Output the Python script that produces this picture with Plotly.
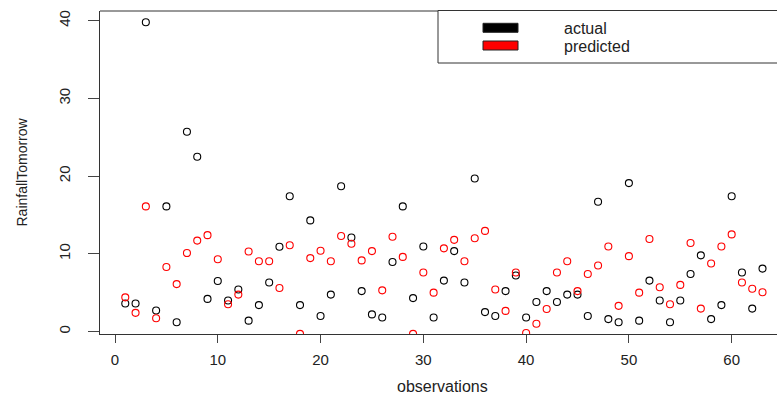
import plotly.graph_objects as go

observations = list(range(1, 64))

actual = [3.6, 3.6, 39.8, 2.7, 16.1, 1.2, 25.7, 22.5, 4.2, 6.5,
          4.0, 5.4, 1.4, 3.4, 6.3, 10.9, 17.4, 3.4, 14.3, 2.0,
          4.75, 18.7, 12.1, 5.2, 2.2, 1.8, 8.95, 16.1, 4.3, 10.95,
          1.8, 6.55, 10.35, 6.3, 19.7, 2.5, 2.0, 5.2, 7.2, 1.8,
          3.8, 5.2, 3.8, 4.75, 4.75, 2.0, 16.7, 1.6, 1.2, 19.1,
          1.4, 6.55, 4.0, 1.2, 4.0, 7.4, 9.8, 1.6, 3.4, 17.4,
          7.6, 2.95, 8.1]

predicted = [4.4, 2.4, 16.1, 1.7, 8.3, 6.1, 10.1, 11.7, 12.4, 9.3,
             3.5, 4.75, 10.3, 9.05, 9.05, 5.6, 11.1, -0.3, 9.45, 10.4,
             9.05, 12.3, 11.3, 9.15, 10.35, 5.3, 12.2, 9.6, -0.3, 7.6,
             5.0, 10.7, 11.8, 9.05, 12.0, 12.95, 5.4, 2.65, 7.6, -0.2,
             1.0, 2.9, 7.6, 9.05, 5.2, 7.4, 8.5, 10.95, 3.3, 9.7,
             5.0, 11.9, 5.7, 3.5, 6.0, 11.4, 2.95, 8.75, 10.95, 12.5,
             6.3, 5.5, 5.05]

x_ticks = [0, 10, 20, 30, 40, 50, 60]
y_ticks = [0, 10, 20, 30, 40]
legend_labels = ["actual", "predicted"]
series_colors = ["black", "#FF0000"]
x_title = "observations"
y_title = "RainfallTomorrow"

W, H = 777, 396
ML, MR, MT, MB = 100, 0, 11, 62
PW, PH = W - ML - MR, H - MT - MB
FONT = "Liberation Sans, Arial, sans-serif"


def px(xp):
    return (xp - ML) / PW


def py(yp):
    return (H - MB - yp) / PH


fig = go.Figure()
for vals, col, name in zip([actual, predicted], series_colors, legend_labels):
    fig.add_trace(go.Scatter(
        x=observations, y=vals, mode="markers", name=name,
        marker=dict(symbol="circle-open", size=7, color=col,
                    line=dict(width=1.1, color=col)),
        showlegend=False, cliponaxis=True, hoverinfo="skip",
    ))

shapes = [
    dict(type="line", xref="paper", yref="paper", x0=0, x1=1, y0=1, y1=1,
         line=dict(color="#333333", width=1)),
    dict(type="rect", xref="paper", yref="paper",
         x0=px(438), x1=px(790), y0=py(63), y1=py(10.5),
         line=dict(color="#333333", width=1), fillcolor="white", layer="above"),
]
annotations = []
rect_rows = [(23.3, 32.3, 29), (41, 50, 46)]
for (y0, y1, yc), col, lab in zip(rect_rows, series_colors, legend_labels):
    shapes.append(dict(type="rect", xref="paper", yref="paper",
                       x0=px(483), x1=px(518), y0=py(y1), y1=py(y0),
                       line=dict(color="#222222", width=1), fillcolor=col,
                       layer="above"))
    annotations.append(dict(xref="paper", yref="paper", x=px(562), y=py(yc),
                            text=lab, showarrow=False, xanchor="left",
                            yanchor="middle",
                            font=dict(family=FONT, size=16, color="#222222")))

annotations.append(dict(xref="paper", yref="paper", x=px(442), y=py(386.5),
                        text=x_title, showarrow=False, xanchor="center",
                        yanchor="middle",
                        font=dict(family=FONT, size=16, color="#222222")))
annotations.append(dict(xref="paper", yref="paper", x=px(21), y=py(172.5),
                        text=y_title, showarrow=False, textangle=-90,
                        xanchor="center", yanchor="middle",
                        font=dict(family=FONT, size=14, color="#222222")))

fig.update_layout(
    width=W, height=H,
    margin=dict(l=ML, r=MR, t=MT, b=MB, pad=0, autoexpand=False),
    paper_bgcolor="white", plot_bgcolor="white",
    font=dict(family=FONT, color="#222222"),
    shapes=shapes, annotations=annotations,
    showlegend=False,
)
fig.update_xaxes(
    range=[-1.46, 64.41], tickvals=x_ticks, ticktext=[str(v) for v in x_ticks],
    showgrid=False, zeroline=False, automargin=False,
    showline=True, linecolor="#333333", linewidth=1, mirror=False,
    ticks="outside", ticklen=8, tickcolor="#444444", tickwidth=1,
    tickfont=dict(family=FONT, size=15, color="#222222"),
    ticklabelstandoff=4,
)
fig.update_yaxes(
    range=[-0.32, 41.25], tickvals=y_ticks, ticktext=[str(v) for v in y_ticks],
    showgrid=False, zeroline=False, automargin=False,
    showline=True, linecolor="#333333", linewidth=1, mirror=False,
    ticks="outside", ticklen=11, tickcolor="#444444", tickwidth=1,
    tickangle=-90,
    tickfont=dict(family=FONT, size=15, color="#222222"),
    ticklabelstandoff=12,
)

fig.write_html(
    "out.html",
    config={"displayModeBar": False},
    post_script="document.body.style.margin='0';document.body.style.overflow='hidden';",
)
